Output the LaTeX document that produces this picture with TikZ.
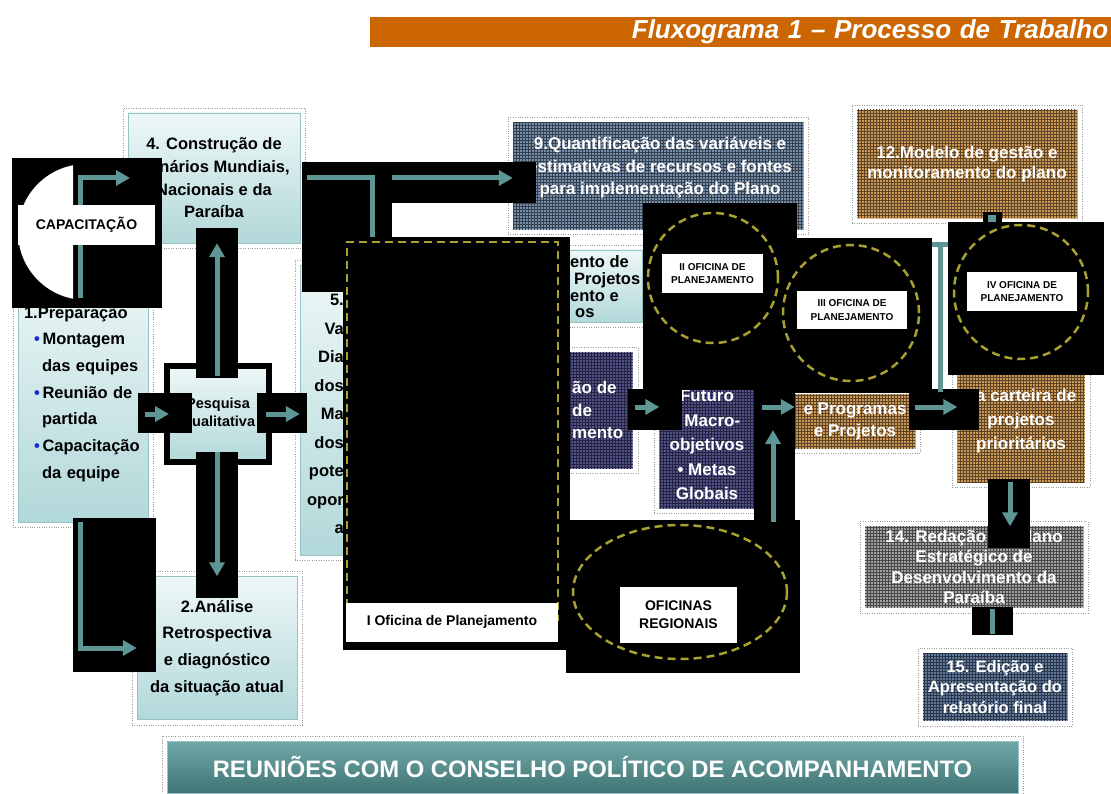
\documentclass[tikz,border=0pt]{standalone}
\usepackage{fontspec}
\setmainfont{Liberation Sans}
\usepackage{xcolor}
\usetikzlibrary{shapes, arrows.meta, positioning, fit, backgrounds, calc, patterns}

\definecolor{titleorange}{RGB}{204,102,0}
\definecolor{tealtop}{RGB}{238,247,247}
\definecolor{tealbot}{RGB}{178,216,217}
\definecolor{tealedge}{RGB}{150,196,198}
\definecolor{flowteal}{RGB}{94,150,150}
\definecolor{olive}{RGB}{168,160,48}
\definecolor{bulletblue}{RGB}{20,40,220}
\definecolor{slateblue}{RGB}{118,142,172}
\definecolor{navy}{RGB}{80,80,140}
\definecolor{ochre}{RGB}{204,150,85}
\definecolor{stone}{RGB}{160,160,160}
\definecolor{steel}{RGB}{95,120,155}
\definecolor{bannertop}{RGB}{112,168,168}
\definecolor{bannerbot}{RGB}{64,116,116}

\newcommand{\bulmark}{\textcolor{bulletblue}{•}}

\tikzset{
    base/.style={align=center, inner sep=0pt},
    tblock/.style={base, rectangle, draw=tealedge, top color=tealtop, bottom color=tealbot, font=\bfseries\fontsize{16.5}{22.7}\selectfont},
    pblock/.style={base, rectangle, draw=#1!70!white, fill=#1, text=white, font=\bfseries\fontsize{17}{22}\selectfont, postaction={pattern=grid, pattern color=#1!45!black}},
    dotframe/.style={draw=gray!80, dotted, inner sep=5pt},
    panel/.style={fill=black},
    flow/.style={draw=flowteal, line width=5pt, -{Triangle[length=14pt, width=15pt]}},
    plainflow/.style={draw=flowteal, line width=5pt},
    oficina/.style={draw=olive, line width=2.5pt, dash pattern=on 8pt off 5pt},
    ofitag/.style={base, fill=white, font=\bfseries\fontsize{10}{13.5}\selectfont},
    ofitagbig/.style={base, fill=white, font=\bfseries\fontsize{14}{18}\selectfont}
}

\begin{document}
\begin{tikzpicture}[x=1pt, y=-1pt]
    \useasboundingbox (0,0) rectangle (1111,794);
    \fill [white] (0,0) rectangle (1111,794);

    % title bar
    \node [base, anchor=north west, fill=titleorange, text=white, minimum height=30pt, text width=735pt, inner xsep=3pt, align=right, font=\bfseries\itshape\fontsize{26}{30}\selectfont] (title) at (370,17) {Fluxograma 1 – Processo de Trabalho};

    % light boxes
    \node [tblock, minimum width=172pt, minimum height=130pt] (cenarios) at (214,178) {4. Construção de\\Cenários Mundiais,\\Nacionais e da\\Paraíba};
    \node [tblock, minimum height=256pt, text width=118pt, inner xsep=6pt, align=left, font=\bfseries\fontsize{16.5}{26.7}\selectfont] (prep) at (83,394) {1.Preparação\\ \hspace*{10pt}\bulmark\,Montagem\\ \hspace*{18pt}das equipes\\ \hspace*{10pt}\bulmark\,Reunião de\\ \hspace*{18pt}partida\\ \hspace*{10pt}\bulmark\,Capacitação\\ \hspace*{18pt}da equipe};
    \node [tblock, minimum width=102pt, minimum height=96pt, draw=black, line width=6pt, font=\bfseries\fontsize{14.5}{18}\selectfont] (pesq) at (218,414) {Pesquisa\\Qualitativa};
    \node [tblock, minimum width=160pt, minimum height=143pt, font=\bfseries\fontsize{16.5}{26.7}\selectfont] (analise) at (217,648) {2.Análise\\Retrospectiva\\e diagnóstico\\da situação atual};
    \node [tblock, minimum width=70pt, minimum height=290pt] (valid) at (335,410) {};
    \node [base, anchor=east, align=right, font=\bfseries\fontsize{16.5}{28.5}\selectfont] (validtxt) at (344,414) {5.\\Va\\Dia\\dos\\Ma\\dos\\pote\\opor\\a};
    \node [tblock, minimum width=123pt, minimum height=72pt] (carteira) at (581,286) {};
    \node [base, anchor=west, align=left, font=\bfseries\fontsize{16.5}{16.7}\selectfont] (carteiratxt) at (570,287) {ento de\\\hspace*{4pt}Projetos\\ento e\\\hspace*{5pt}os};

    % patterned boxes
    \node [pblock=slateblue, minimum width=290pt, minimum height=107pt] (quant) at (658,176) {};
    \node [base, text=white, font=\bfseries\fontsize{17}{22.5}\selectfont] (quanttxt) at (660,168) {9.Quantificação das variáveis e\\estimativas de recursos e fontes\\para implementação do Plano};
    \node [pblock=navy, minimum width=95pt, minimum height=116pt] (visao) at (585,410) {};
    \node [base, anchor=west, align=left, text=white, font=\bfseries\fontsize{17}{22.5}\selectfont] (visaotxt) at (572,410) {ão de\\de\\mento};
    \node [pblock=navy, minimum width=95pt, minimum height=126pt, font=\bfseries\fontsize{17}{24.5}\selectfont] (metas) at (707,445) {Futuro\\• Macro-\\objetivos\\• Metas\\Globais};
    \node [pblock=ochre, minimum width=120pt, minimum height=54pt] (progr) at (855,421) {e Programas\\e Projetos};
    \node [pblock=ochre, minimum width=127pt, minimum height=122pt, font=\bfseries\fontsize{17}{24}\selectfont] (defin) at (1021,421) {da carteira de\\projetos\\prioritários};
    \node [pblock=ochre, minimum width=220pt, minimum height=108pt, font=\bfseries\fontsize{17}{20}\selectfont] (gestao) at (967,164) {12.Modelo de gestão e\\monitoramento do plano};
    \node [pblock=stone, minimum width=218pt, minimum height=81pt, font=\bfseries\fontsize{17}{20.5}\selectfont] (redacao) at (974,567) {14. Redação do Plano\\Estratégico de\\Desenvolvimento da\\Paraíba};
    \node [pblock=steel, minimum width=144pt, minimum height=67pt, font=\bfseries\fontsize{16.5}{20.5}\selectfont] (edicao) at (995,687) {15. Edição e\\Apresentação do\\relatório final};

    \foreach \n in {cenarios, prep, analise, valid, carteira, quant, visao, metas, progr, defin, gestao, redacao, edicao}
        \node [dotframe, fit=(\n)] (f\n) {};

    % black panels
    \fill [panel] (12,158) rectangle (162,308);
    \fill [panel] (196,228) rectangle (238,378);
    \fill [panel] (196,452) rectangle (238,598);
    \fill [panel] (138,393) rectangle (192,433);
    \fill [panel] (257,393) rectangle (307,433);
    \fill [panel] (73,518) rectangle (156,672);
    \fill [panel] (302,162) rectangle (536,203);
    \fill [panel] (302,203) rectangle (392,292);
    \fill [panel] (343,237) rectangle (570,650);
    \fill [panel] (643,203) rectangle (797,390);
    \fill [panel] (775,238) rectangle (932,393);
    \fill [panel] (948,222) rectangle (1104,375);
    \fill [panel] (983,212) rectangle (1002,222);
    \fill [panel] (628,389) rectangle (682,430);
    \fill [panel] (754,389) rectangle (795,520);
    \fill [panel] (909,389) rectangle (979,430);
    \fill [panel] (988,479) rectangle (1030,548);
    \fill [panel] (972,607) rectangle (1013,635);
    \fill [panel] (566,520) rectangle (800,673);

    % capacitacao
    \begin{scope}
        \clip (12,158) rectangle (73,308);
        \fill [white] (86,232) circle [radius=68pt];
    \end{scope}
    \coordinate (capS) at (80,298);
    \coordinate (capE) at (130,178);
    \draw [flow] (capS) |- (capE);
    \node [base, fill=white, minimum width=137pt, minimum height=40pt, font=\bfseries\fontsize{14}{16}\selectfont] (capac) at (86.5,225) {CAPACITAÇÃO};

    % connectors
    \coordinate (upS) at (217,376);
    \coordinate (dnS) at (217,452);
    \draw [flow] (upS) -- (upS |- cenarios.south);
    \draw [flow] (dnS) -- (dnS |- analise.north);
    \draw [flow] ([xshift=-3pt]prep.east |- pesq.west) -- ([xshift=5pt]pesq.west);
    \draw [flow] ([xshift=-6pt]pesq.east) -- (valid.west |- pesq.east);
    \draw [flow] ([xshift=-3pt]prep.south) |- (analise.west);

    \coordinate (topbend) at (372,237);
    \coordinate (junc) at (392,178);
    \draw [plainflow] ([xshift=7pt]cenarios.east) -| (topbend);
    \draw [flow] (junc) -- (quant.west |- junc);

    \coordinate (a1) at (635,407);
    \coordinate (a2) at (762,407);
    \coordinate (a3) at (915,407);
    \coordinate (a4) at (1010,482);
    \coordinate (a5) at (992,609);
    \coordinate (regS) at (773,522);
    \coordinate (regE) at (773,430);
    \draw [flow] (a1) -- (metas.west |- a1);
    \draw [flow] (a2) -- (progr.west |- a2);
    \draw [flow] (a3) -- (defin.west |- a3);
    \draw [flow] (a4) -- (a4 |- redacao.north);
    \draw [plainflow] (a5) -- ++(0,25);
    \draw [flow] (regS) -- (regE);

    \coordinate (tl) at (932,245);
    \coordinate (tr) at (948,245);
    \draw [plainflow] (tl) -- (tr);
    \draw [plainflow] ($(tl)!0.5!(tr)$) -- ++(0,147);
    \fill [flowteal] (988,215) rectangle (996,222);

    % oficinas
    \draw [oficina] (347,620) rectangle (558,242);
    \node [ofitagbig, minimum width=212pt, minimum height=39pt] (ofi1) at (452,622) {I Oficina de Planejamento};
    \draw [oficina] (713,278) circle [radius=65pt];
    \draw [oficina] (851,313) circle [radius=68pt];
    \draw [oficina] (1021,292) circle [radius=67pt];
    \draw [oficina] (680,592) ellipse [x radius=107pt, y radius=67pt];
    \node [ofitag, minimum width=101pt, minimum height=39pt] (ofi2) at (712.5,273.5) {II OFICINA DE\\PLANEJAMENTO};
    \node [ofitag, minimum width=110pt, minimum height=37pt] (ofi3) at (852,310) {III OFICINA DE\\PLANEJAMENTO};
    \node [ofitag, minimum width=110pt, minimum height=39pt] (ofi4) at (1022,291.5) {IV OFICINA DE\\PLANEJAMENTO};
    \node [ofitagbig, minimum width=117pt, minimum height=56pt] (regionais) at (678.5,615) {OFICINAS\\REGIONAIS};

    % banner
    \node [base, draw=tealedge, top color=bannertop, bottom color=bannerbot, text=white, minimum width=851pt, minimum height=52pt, font=\bfseries\fontsize{23.8}{26}\selectfont] (conselho) at (592.5,767) {REUNIÕES COM O CONSELHO POLÍTICO DE ACOMPANHAMENTO};
    \node [dotframe, fit=(conselho)] (fconselho) {};
\end{tikzpicture}
\end{document}
